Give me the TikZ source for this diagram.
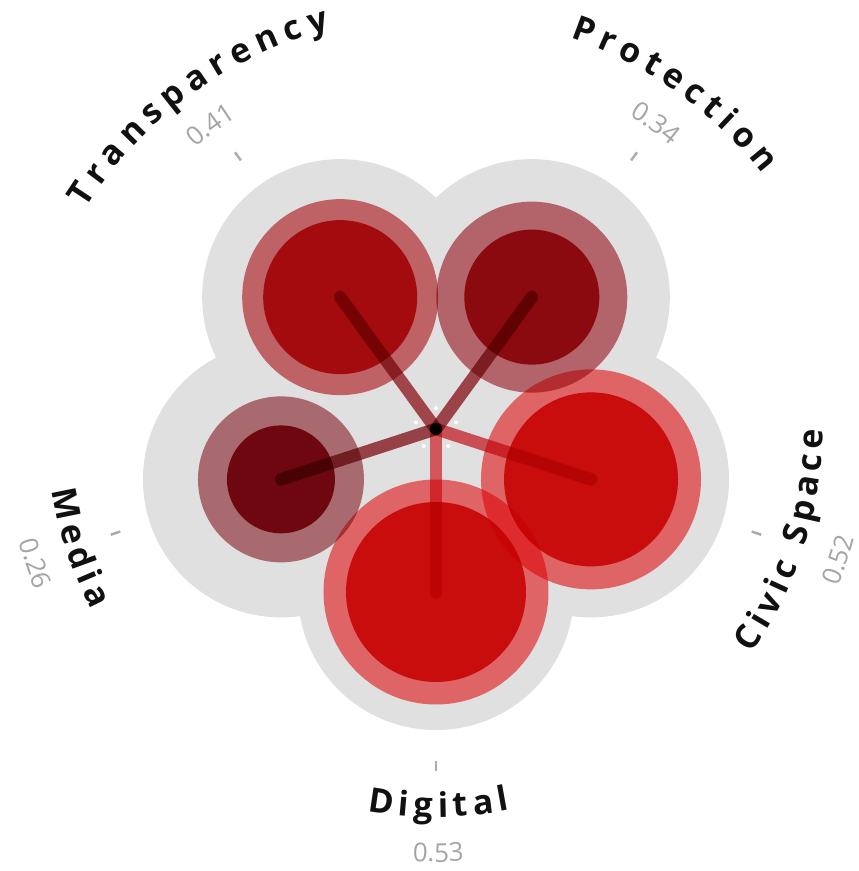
\documentclass[tikz,border=0pt]{standalone}
\usepackage{fontspec}
\setmainfont{Open Sans}
\usetikzlibrary{decorations.text}
\definecolor{bggrey}{RGB}{224,224,224}
\definecolor{labelink}{RGB}{17,17,17}
\definecolor{valink}{RGB}{165,165,165}
\definecolor{tickink}{RGB}{172,172,172}
\definecolor{Tring}{RGB}{217,112,117}
\definecolor{Tin}{RGB}{221,31,35}
\definecolor{Pring}{RGB}{204,114,121}
\definecolor{Pin}{RGB}{198,26,38}
\definecolor{Cring}{RGB}{254,114,117}
\definecolor{Cin}{RGB}{230,31,30}
\definecolor{Mring}{RGB}{192,121,126}
\definecolor{Min}{RGB}{167,19,37}
\definecolor{Tsp}{RGB}{183,80,86}
\definecolor{Psp}{RGB}{178,76,84}
\definecolor{Csp}{RGB}{229,91,97}
\definecolor{Dsp}{RGB}{240,100,106}
\definecolor{Msp}{RGB}{171,74,80}
\newcommand\lblfont{\bfseries\fontsize{34}{40}\selectfont}
\newcommand\valfont{\fontsize{26}{30}\selectfont}
\tikzset{
  disc/.style={blend mode=multiply},
  spoke/.style={line width=12.5pt, line cap=round, blend mode=multiply},
  tickmark/.style={draw=tickink, line width=2.5pt},
  lbl/.style={decorate, decoration={text along path, text align=fit to path,
      text color=labelink, text={|\lblfont|#1}}},
  val/.style={decorate, decoration={text along path, text align=center,
      text color=valink, text={|\valfont|#1}}},
}
\begin{document}
\begin{tikzpicture}[x=1pt,y=1pt]
\useasboundingbox (-436,-442) rectangle (423,429);
\fill[white] (-436,-442) rectangle (423,429);
\coordinate (O) at (0,0);
\coordinate (T) at (126:163);
\coordinate (P) at (54:163);
\coordinate (C) at (342:163);
\coordinate (D) at (270:163);
\coordinate (M) at (198:163);
% grey backdrop
\fill[bggrey] (T) -- (P) -- (C) -- (D) -- (M) -- cycle;
\foreach \c in {T,P,C,D,M} \fill[bggrey] (\c) circle[radius=138];
% rings
\fill[disc, fill=Tring] (T) circle[radius=98];
\fill[disc, fill=Pring] (P) circle[radius=95.5];
\fill[disc, fill=Cring] (C) circle[radius=110];
\fill[disc, fill=Cring] (D) circle[radius=112.5];
\fill[disc, fill=Mring] (M) circle[radius=83];
% inner discs
\fill[disc, fill=Tin] (T) circle[radius=77];
\fill[disc, fill=Pin] (P) circle[radius=67.5];
\fill[disc, fill=Cin] (C) circle[radius=87];
\fill[disc, fill=Cin] (D) circle[radius=90];
\fill[disc, fill=Min] (M) circle[radius=54];
% spokes
\draw[spoke, draw=Tsp] (O) -- (T);
\draw[spoke, draw=Psp] (O) -- (P);
\draw[spoke, draw=Csp] (O) -- (C);
\draw[spoke, draw=Dsp] (O) -- (D);
\draw[spoke, draw=Msp] (O) -- (M);
\foreach \a in {18,90,162,234,306} \fill[white] (\a:21) circle[radius=2];
\fill[black] (O) circle[radius=6];
% ticks
\foreach \a in {126,54,342,270,198} \draw[tickmark] (\a:332) -- (\a:342);
% labels
\path[lbl={Transparency}] (147.9:414) arc[start angle=147.9, end angle=104.9, radius=414];
\path[lbl={Protection}] (71.1:414) arc[start angle=71.1, end angle=38.0, radius=414];
\path[lbl={Civic Space}] (324.6:387) arc[start angle=324.6, end angle=359.9, radius=387];
\path[lbl={Digital}] (259.8:388) arc[start angle=259.8, end angle=281.0, radius=388];
\path[lbl={Media}] (189.1:389) arc[start angle=189.1, end angle=207.7, radius=389];
% values
\path[val={0.41}] (146.6:370) arc[start angle=146.6, end angle=106.6, radius=370];
\path[val={0.34}] (74.3:368) arc[start angle=74.3, end angle=34.3, radius=368];
\path[val={0.52}] (322:432) arc[start angle=322, end angle=362, radius=432];
\path[val={0.53}] (250.3:433) arc[start angle=250.3, end angle=290.3, radius=433];
\path[val={0.26}] (178.5:432) arc[start angle=178.5, end angle=218.5, radius=432];
\end{tikzpicture}
\end{document}
